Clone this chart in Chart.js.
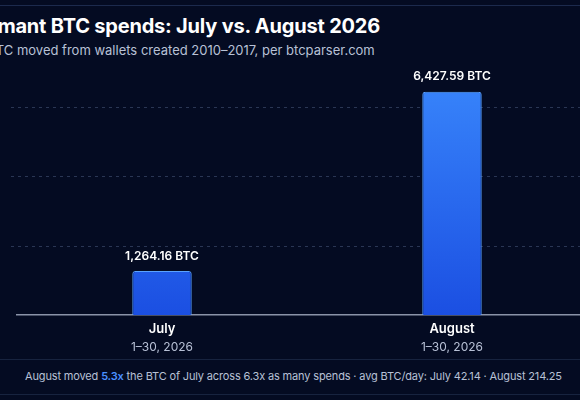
<!DOCTYPE html><html><head><meta charset="utf-8">
<script src="https://cdn.jsdelivr.net/npm/chart.js@4"></script>
<style>
body{margin:0;width:580px;height:400px;overflow:hidden;background:#040b22;font-family:Inter,"Noto Sans",sans-serif;position:relative}
.t{position:absolute;white-space:nowrap;color:#fff}
</style></head><body>
<div style="position:absolute;left:0;right:0;top:5px;height:1px;background:#1c2a4d"></div>
<div class="t" style="left:-37px;top:14px;font-size:20px;font-weight:700;letter-spacing:-0.2px">Dormant BTC spends: July vs. August 2026</div>
<div class="t" style="left:-12px;top:42px;font-size:13px;color:#b8c1d6">BTC moved from wallets created 2010–2017, per btcparser.com</div>
<div style="position:absolute;left:0;right:0;top:359px;height:1px;background:#17233f"></div>
<div class="t" style="left:25px;top:369px;font-size:11px;letter-spacing:-0.15px;color:#b8c1d6">August moved <b style="color:#4a90ff;font-weight:600">5.3x</b> the BTC of July across 6.3x as many spends · avg BTC/day: July 42.14 · August 214.25</div>
<div style="position:absolute;left:0;right:0;top:394px;height:1px;background:#17233f"></div>
<div style="position:absolute;left:9px;top:37px;width:588px;height:340px"><canvas id="c"></canvas></div>
<script>
const categories=['July','August'];
const subLabels=['1–30, 2026','1–30, 2026'];
const btcValues=[1264.16,6427.59];
const valueLabels=['1,264.16 BTC','6,427.59 BTC'];
const gridValues=[2000,4000,6000];
const ctx=document.getElementById('c').getContext('2d');
const gridPlugin={id:'grd',beforeDatasetsDraw(ch){const c=ch.ctx,y=ch.scales.y,a=ch.chartArea;c.save();c.strokeStyle='#2a3654';c.lineWidth=1;c.setLineDash([3,4]);
 gridValues.forEach(v=>{const py=Math.round(y.getPixelForValue(v))+0.5;c.beginPath();c.moveTo(a.left-20,py);c.lineTo(a.right+20,py);c.stroke();});c.restore();}};
const labelsPlugin={id:'lbl',afterDatasetsDraw(ch){
 const c=ch.ctx,x=ch.scales.x,m=ch.getDatasetMeta(0);c.save();c.textAlign='center';
 m.data.forEach((b,i)=>{c.fillStyle='#fff';c.font='600 12px Inter';c.textBaseline='bottom';c.fillText(valueLabels[i],b.x,b.y-9);
  const px=x.getPixelForValue(i);c.textBaseline='top';c.font='600 13px Inter';c.fillText(categories[i],px,ch.chartArea.bottom+8);
  c.fillStyle='#b8c1d6';c.font='12px Inter';c.fillText(subLabels[i],px,ch.chartArea.bottom+26);});
 c.restore();}};
new Chart(ctx,{type:'bar',data:{labels:categories,datasets:[{data:btcValues,
 backgroundColor:(cx)=>{const a=cx.chart.chartArea;if(!a)return'#2a6cf5';const g=cx.chart.ctx.createLinearGradient(0,a.top,0,a.bottom);g.addColorStop(0,'#3d8eff');g.addColorStop(1,'#1b4fe2');return g;},
 borderColor:'#5aa2ff',borderWidth:1,borderRadius:{topLeft:3,topRight:3},borderSkipped:'bottom',barPercentage:0.205,categoryPercentage:1}]},
 options:{responsive:true,maintainAspectRatio:false,animation:false,layout:{padding:{bottom:54,top:0}},
 plugins:{legend:{display:false},tooltip:{enabled:false}},
 scales:{x:{ticks:{display:false},grid:{display:false},border:{color:'#8a93a8',width:1.5}},
 y:{min:0,max:8000,ticks:{display:false,stepSize:2000},grid:{display:false},border:{display:false}}}},
 plugins:[gridPlugin,labelsPlugin]});
</script></body></html>
